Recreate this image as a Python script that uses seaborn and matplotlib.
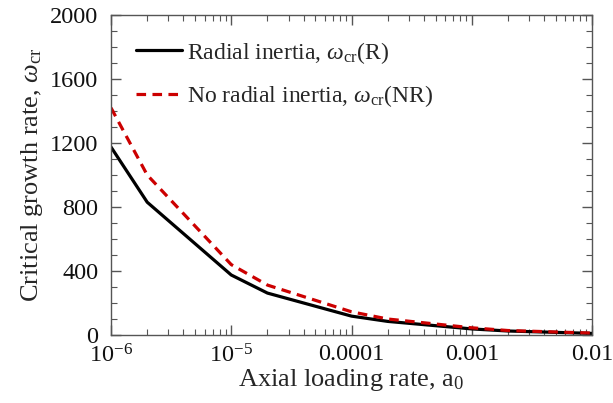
import numpy as np
import pandas as pd
import seaborn as sns
import matplotlib
matplotlib.use("Agg")
import matplotlib.pyplot as plt
from matplotlib.ticker import FixedLocator, FixedFormatter, MultipleLocator, LogLocator, NullFormatter

a0 = [1e-6, 2e-6, 1e-5, 2e-5, 1e-4, 2e-4, 1e-3, 2e-3, 1e-2]
omega_R = [1175, 830, 375, 262, 118, 85, 38, 25, 10]
omega_NR = [1420, 1000, 440, 312, 145, 100, 45, 28, 12]
labels = [r"Radial inertia, $\omega_{\rm cr}$(R)", r"No radial inertia, $\omega_{\rm cr}$(NR)"]
xticks = [1e-6, 1e-5, 1e-4, 1e-3, 1e-2]
xticklabels = [r"10$^{-6}$", r"10$^{-5}$", "0.0001", "0.001", "0.01"]

sns.set_style("ticks")
plt.rcParams["font.family"] = ["Liberation Serif", "DejaVu Serif"]
plt.rcParams["mathtext.fontset"] = "custom"
plt.rcParams["mathtext.rm"] = "Liberation Serif"
plt.rcParams["mathtext.it"] = "Liberation Serif:italic"

df = pd.DataFrame({"a0": a0 * 2, "omega": omega_R + omega_NR,
                   "series": [labels[0]] * len(a0) + [labels[1]] * len(a0)})

fig = plt.figure(figsize=(6.13, 4.03), dpi=100)
ax = fig.add_axes([111 / 613, 1 - 335 / 403, 481 / 613, 320 / 403])
sns.lineplot(data=df, x="a0", y="omega", hue="series", style="series",
             palette={labels[0]: "black", labels[1]: "#cc0000"},
             dashes={labels[0]: "", labels[1]: (3, 2)}, linewidth=2.3, ax=ax)
ax.set_xscale("log")
ax.set_xlim(1e-6, 1e-2)
ax.set_ylim(0, 2000)
ax.xaxis.set_major_locator(FixedLocator(xticks))
ax.xaxis.set_major_formatter(FixedFormatter(xticklabels))
ax.xaxis.set_minor_locator(LogLocator(base=10, subs=np.arange(2, 10)))
ax.xaxis.set_minor_formatter(NullFormatter())
ax.yaxis.set_major_locator(MultipleLocator(400))
ax.yaxis.set_minor_locator(MultipleLocator(100))
ax.tick_params(which="both", direction="in", top=True, right=True, labelsize=17.5,
               color="#555555", labelcolor="#111111")
ax.tick_params(which="major", length=7, width=1)
ax.tick_params(which="minor", length=4, width=0.8)
ax.tick_params(axis="x", pad=6.5)
ax.tick_params(axis="y", pad=9)
for s in ax.spines.values():
    s.set_color("#555555")
    s.set_linewidth(1)
ax.set_xlabel(r"Axial loading rate, a$_0$", fontsize=19, labelpad=0)
ax.set_ylabel(r"Critical growth rate, $\omega_{\rm cr}$", fontsize=19, labelpad=4)
leg = ax.legend(loc="upper left", frameon=False, fontsize=17, handlelength=1.95,
                handletextpad=0.2, borderaxespad=0.45, labelspacing=0.75,
                borderpad=0.6)
fig.savefig("out.png", dpi=100)
